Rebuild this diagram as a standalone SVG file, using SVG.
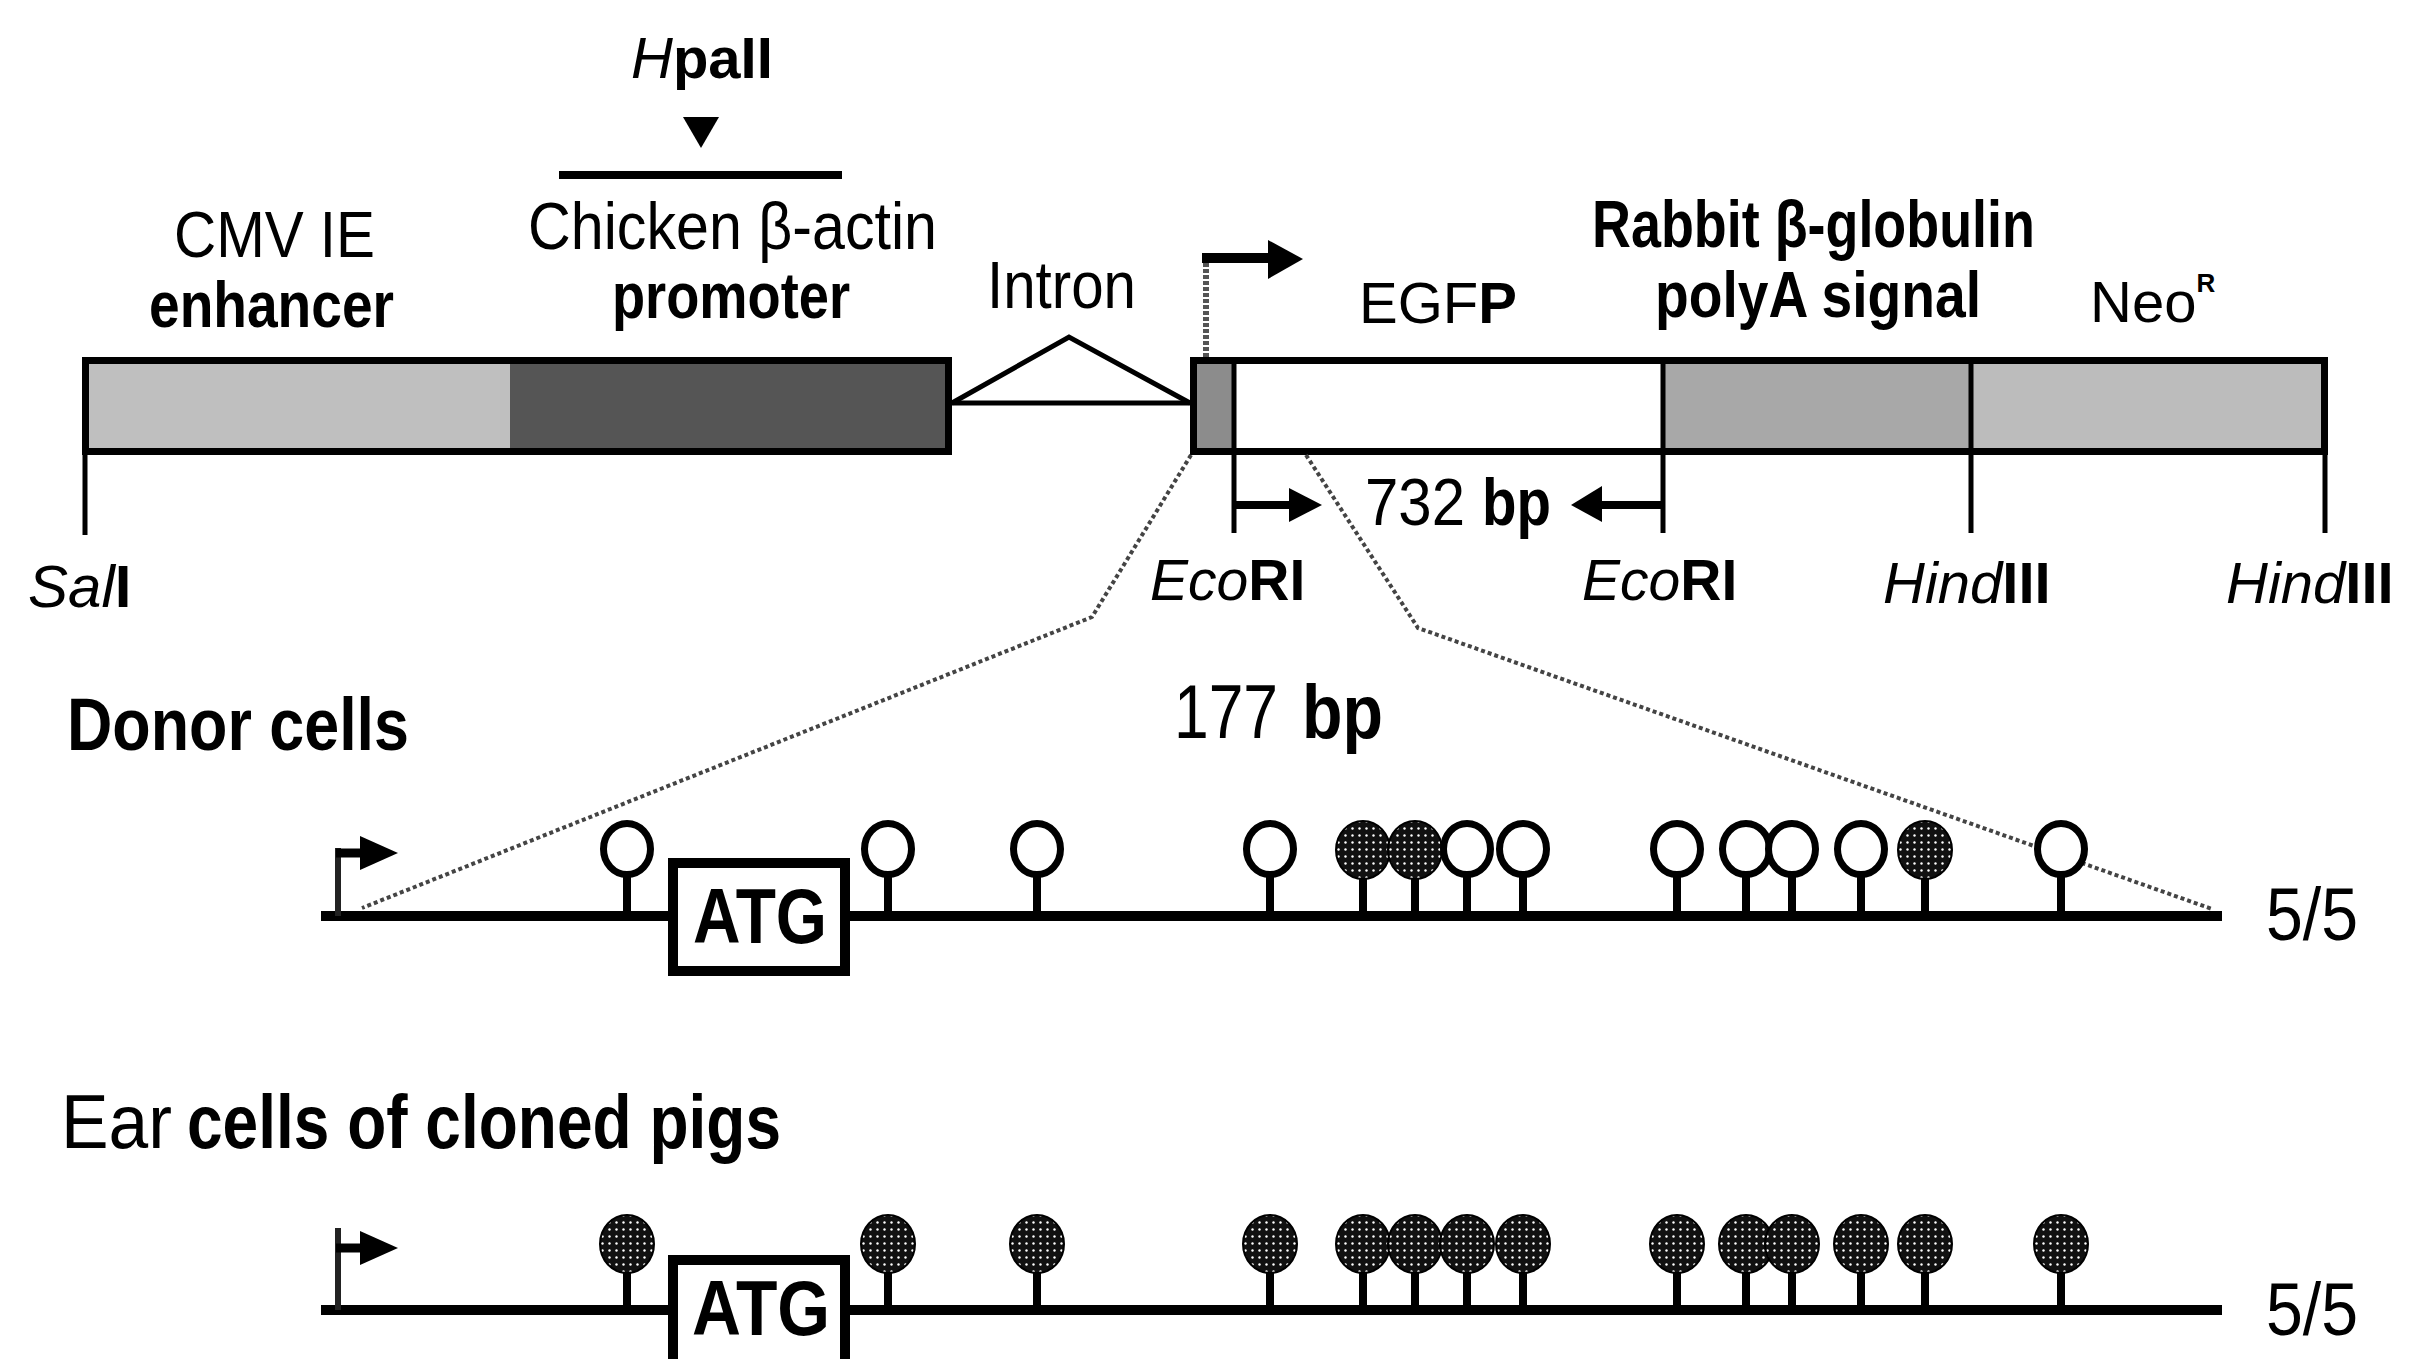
<svg xmlns="http://www.w3.org/2000/svg" width="2409" height="1359" viewBox="0 0 2409 1359">
<style>
text { font-family: "Liberation Sans", Arial, Helvetica, sans-serif; fill: #000; }
.b { font-weight: bold; }
.i { font-style: italic; }
.k { stroke: #000; fill: none; }
.tick { stroke: #000; stroke-width: 5; }
.dot { stroke: #444; stroke-width: 4; stroke-dasharray: 4 3; fill: none; }
.open { fill: #fff; stroke: #000; stroke-width: 7; }
.full { fill: url(#dots); stroke: #000; stroke-width: 2; }
.stem { stroke: #000; stroke-width: 8; }
.ah { fill: #000; }
</style>
<defs>
<pattern id="dots" width="7" height="7" patternUnits="userSpaceOnUse">
<rect width="7" height="7" fill="#111"/>
<circle cx="3.5" cy="3.5" r="1.2" fill="#fff"/>
</pattern>
<g id="lo"><line class="stem" x1="0" y1="0" x2="0" y2="-42"/><ellipse class="open" cx="0" cy="-67" rx="23.5" ry="25.5"/></g>
<g id="lf"><line class="stem" x1="0" y1="0" x2="0" y2="-42"/><ellipse class="full" cx="0" cy="-66" rx="27" ry="29"/></g>
</defs>
<rect width="2409" height="1359" fill="#fff"/>

<g id="hpaii">
<text x="631" y="78" font-size="58"><tspan class="i">H</tspan><tspan class="b">paII</tspan></text>
<polygon points="683,117 719,117 701,148"/>
<line x1="559" y1="175" x2="842" y2="175" stroke="#000" stroke-width="8"/>
</g>

<g id="cmv-label">
<text x="174" y="257" font-size="64" textLength="201" lengthAdjust="spacingAndGlyphs">CMV IE</text>
<text class="b" x="149" y="327" font-size="64" textLength="245" lengthAdjust="spacingAndGlyphs">enhancer</text>
</g>
<g id="promoter-label">
<text x="528" y="249" font-size="66" textLength="409" lengthAdjust="spacingAndGlyphs">Chicken β-actin</text>
<text class="b" x="612" y="318" font-size="64" textLength="238" lengthAdjust="spacingAndGlyphs">promoter</text>
</g>
<g id="intron-label">
<text x="987" y="308" font-size="66" textLength="149" lengthAdjust="spacingAndGlyphs">Intron</text>
</g>
<g id="egfp-label">
<text x="1359" y="323" font-size="58">EGF<tspan class="b">P</tspan></text>
</g>
<g id="polya-label">
<text class="b" x="1592" y="247" font-size="66" textLength="443" lengthAdjust="spacingAndGlyphs">Rabbit β-globulin</text>
<text class="b" x="1655" y="317" font-size="64" textLength="326" lengthAdjust="spacingAndGlyphs">polyA signal</text>
</g>
<g id="neo-label">
<text x="2090" y="322" font-size="58">Neo<tspan class="b" font-size="26" dy="-30">R</tspan></text>
</g>

<g id="construct">
<rect x="82" y="357" width="428" height="98" fill="#bfbfbf"/>
<rect x="510" y="357" width="442" height="98" fill="#555"/>
<rect x="85.5" y="360.5" width="863" height="91" class="k" stroke-width="7"/>
<rect x="1190" y="357" width="44" height="98" fill="#8c8c8c"/>
<rect x="1234" y="357" width="429" height="98" fill="#fff"/>
<rect x="1663" y="357" width="308" height="98" fill="#a8a8a8"/>
<rect x="1971" y="357" width="357" height="98" fill="#bcbcbc"/>
<rect x="1193.5" y="360.5" width="1131" height="91" class="k" stroke-width="7"/>
<line class="tick" x1="1234" y1="357" x2="1234" y2="455"/>
<line class="tick" x1="1663" y1="357" x2="1663" y2="455"/>
<line class="tick" x1="1971" y1="357" x2="1971" y2="455"/>
</g>

<g id="intron">
<polyline class="k" stroke-width="5" points="952,403 1069,337 1190,403"/>
<line class="k" stroke-width="5" x1="952" y1="403" x2="1190" y2="403"/>
</g>

<g id="sites">
<line class="tick" x1="85" y1="455" x2="85" y2="535"/>
<line class="tick" x1="1234" y1="455" x2="1234" y2="533"/>
<line class="tick" x1="1663" y1="455" x2="1663" y2="533"/>
<line class="tick" x1="1971" y1="455" x2="1971" y2="533"/>
<line class="tick" x1="2325" y1="455" x2="2325" y2="533"/>
<text x="28" y="607" font-size="60"><tspan class="i">Sal</tspan><tspan class="b">I</tspan></text>
<text x="1150" y="600" font-size="57"><tspan class="i">Eco</tspan><tspan class="b">RI</tspan></text>
<text x="1582" y="600" font-size="57"><tspan class="i">Eco</tspan><tspan class="b">RI</tspan></text>
<text x="1883" y="603" font-size="58"><tspan class="i">Hind</tspan><tspan class="b">III</tspan></text>
<text x="2226" y="603" font-size="58"><tspan class="i">Hind</tspan><tspan class="b">III</tspan></text>
</g>

<g id="pcr">
<line class="k" stroke-width="8" x1="1234" y1="505" x2="1296" y2="505"/>
<polygon class="ah" points="1289,488 1322,505 1289,522"/>
<text x="1365" y="525" font-size="66" textLength="100" lengthAdjust="spacingAndGlyphs">732</text>
<text class="b" x="1482" y="525" font-size="66" textLength="69" lengthAdjust="spacingAndGlyphs">bp</text>
<line class="k" stroke-width="8" x1="1663" y1="505" x2="1598" y2="505"/>
<polygon class="ah" points="1602,486 1571,505 1602,522"/>
</g>

<g id="connectors">
<line x1="1206" y1="357" x2="1206" y2="256" stroke="#555" stroke-width="6" stroke-dasharray="4 2"/>
<line class="k" stroke-width="10" x1="1202" y1="258" x2="1272" y2="258"/>
<polygon class="ah" points="1268,240 1303,259 1268,279"/>
<polyline class="dot" points="1191,455 1092,617 362,908"/>
<polyline class="dot" points="1306,455 1418,628 2212,909"/>
</g>

<g id="donor">
<text class="b" x="67" y="750" font-size="74" textLength="342" lengthAdjust="spacingAndGlyphs">Donor cells</text>
<text x="1174" y="738" font-size="76" textLength="104" lengthAdjust="spacingAndGlyphs">177</text>
<text class="b" x="1302" y="738" font-size="76" textLength="81" lengthAdjust="spacingAndGlyphs">bp</text>
<line class="k" stroke-width="10" x1="321" y1="916" x2="2222" y2="916"/>
<line x1="338" y1="916" x2="338" y2="848" stroke="#222" stroke-width="6"/>
<line class="k" stroke-width="9" x1="336" y1="853" x2="364" y2="853"/>
<polygon class="ah" points="360,836 398,853 360,870"/>
<use href="#lo" x="627" y="916"/>
<use href="#lo" x="888" y="916"/>
<use href="#lo" x="1037" y="916"/>
<use href="#lo" x="1270" y="916"/>
<use href="#lf" x="1363" y="916"/>
<use href="#lf" x="1415" y="916"/>
<use href="#lo" x="1467" y="916"/>
<use href="#lo" x="1523" y="916"/>
<use href="#lo" x="1677" y="916"/>
<use href="#lo" x="1746" y="916"/>
<use href="#lo" x="1792" y="916"/>
<use href="#lo" x="1861" y="916"/>
<use href="#lf" x="1925" y="916"/>
<use href="#lo" x="2061" y="916"/>
<rect x="673" y="863" width="172" height="108" fill="#fff" stroke="#000" stroke-width="10"/>
<text class="b" x="693" y="943" font-size="78" textLength="134" lengthAdjust="spacingAndGlyphs">ATG</text>
<text x="2266" y="940" font-size="74" textLength="92" lengthAdjust="spacingAndGlyphs">5/5</text>
</g>

<g id="ear">
<text x="61" y="1148" font-size="76" textLength="111" lengthAdjust="spacingAndGlyphs">Ear</text>
<text class="b" x="187" y="1148" font-size="76" textLength="594" lengthAdjust="spacingAndGlyphs">cells of cloned pigs</text>
<line class="k" stroke-width="10" x1="321" y1="1310" x2="2222" y2="1310"/>
<line x1="338" y1="1310" x2="338" y2="1228" stroke="#222" stroke-width="6"/>
<line class="k" stroke-width="9" x1="336" y1="1248" x2="364" y2="1248"/>
<polygon class="ah" points="360,1231 398,1248 360,1265"/>
<use href="#lf" x="627" y="1310"/>
<use href="#lf" x="888" y="1310"/>
<use href="#lf" x="1037" y="1310"/>
<use href="#lf" x="1270" y="1310"/>
<use href="#lf" x="1363" y="1310"/>
<use href="#lf" x="1415" y="1310"/>
<use href="#lf" x="1467" y="1310"/>
<use href="#lf" x="1523" y="1310"/>
<use href="#lf" x="1677" y="1310"/>
<use href="#lf" x="1746" y="1310"/>
<use href="#lf" x="1792" y="1310"/>
<use href="#lf" x="1861" y="1310"/>
<use href="#lf" x="1925" y="1310"/>
<use href="#lf" x="2061" y="1310"/>
<rect x="673" y="1260" width="172" height="130" fill="#fff" stroke="#000" stroke-width="10"/>
<text class="b" x="692" y="1335" font-size="78" textLength="138" lengthAdjust="spacingAndGlyphs">ATG</text>
<text x="2266" y="1335" font-size="74" textLength="92" lengthAdjust="spacingAndGlyphs">5/5</text>
</g>
</svg>
